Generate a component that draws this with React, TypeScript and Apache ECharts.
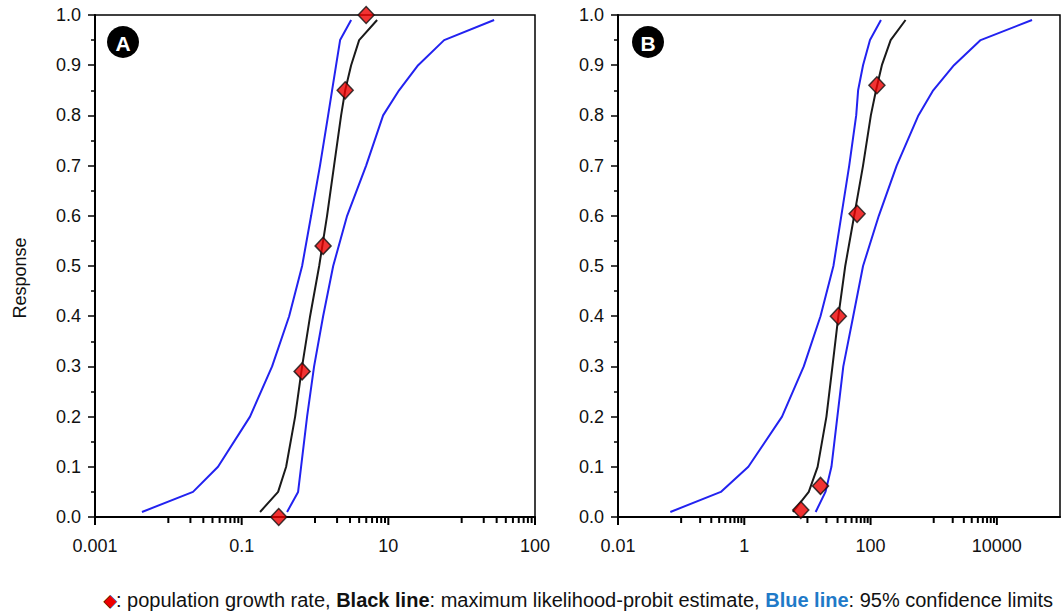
import React, { useEffect, useRef } from "react";
import * as echarts from "echarts";

// Response levels at which the fitted curves are drawn
const levels = [0.01, 0.05, 0.1, 0.2, 0.3, 0.4, 0.5, 0.6, 0.7, 0.8, 0.85, 0.9, 0.95, 0.99];

// Panel A (x values for each response level)
const aBlack = [0.178, 0.314, 0.404, 0.536, 0.667, 0.857, 1.14, 1.46, 1.82, 2.27, 2.58, 3.11, 4.0, 7.03];
const aLower = [0.00437, 0.0217, 0.0476, 0.13, 0.26, 0.444, 0.667, 0.885, 1.17, 1.51, 1.71, 1.94, 2.2, 3.11];
const aUpper = [0.416, 0.588, 0.646, 0.78, 0.972, 1.29, 1.77, 2.74, 4.98, 8.49, 14.0, 25.5, 57.7, 277];
const aPointX = [0.32, 0.667, 1.29, 2.58, 4.98];
const aPointY = [0.0, 0.29, 0.54, 0.85, 1.0];

// Panel B
const bBlack = [5.89, 10.5, 14.5, 20.0, 24.9, 30.9, 39.7, 55.0, 76.0, 101, 122, 151, 208, 358];
const bLower = [0.0674, 0.425, 1.16, 3.96, 8.75, 16.1, 25.8, 34.4, 45.9, 59.2, 63.5, 76.0, 97.9, 146];
const bUpper = [13.5, 19.3, 24.0, 29.8, 37.0, 53.1, 76.0, 135, 259, 572, 982, 2094, 5534, 36060];
const bPointX = [7.85, 16.1, 30.9, 61.2, 126];
const bPointY = [0.014, 0.062, 0.4, 0.604, 0.86];

// Axis tick labels (by power of ten)
const aLabels: Record<number, string> = { [-3]: "0.001", [-1]: "0.1", 1: "10", 3: "100" };
const bLabels: Record<number, string> = { [-2]: "0.01", 0: "1", 2: "100", 4: "10000" };
const aMajors = [0.001, 0.1, 10, 1000];
const bMajors = [0.01, 1, 100, 10000];
const minorMultiples = [1, 2, 3, 4, 5, 6, 7, 8, 9];

const FONT = "'Liberation Sans', Arial, sans-serif";
const BLUE = "#2222f0";
const BLACK = "#1a1a1a";

function minorTicks(majors: number[], max: number) {
  const out: number[] = [];
  majors.forEach((m) => {
    minorMultiples.forEach((k) => {
      const v = m * 10 * k;
      if (v <= max * 0.9999) out.push(v);
    });
  });
  return out;
}

function pairs(xs: number[], ys: number[]) {
  return xs.map((x, i) => [x, ys[i]]);
}

export default function App() {
  const ref = useRef<HTMLDivElement>(null);
  useEffect(() => {
    if (!ref.current) return;
    const chart = echarts.init(ref.current, undefined, { renderer: "svg" });

    const xAxisBase = (idx: number, min: number, max: number, labels: Record<number, string>) => ({
      type: "log",
      gridIndex: idx,
      logBase: 10,
      min,
      max,
      axisLine: { show: true, lineStyle: { color: "#000", width: 2 } },
      axisTick: { show: false },
      splitLine: { show: false },
      axisLabel: {
        margin: 20,
        fontSize: 18,
        fontFamily: FONT,
        color: "#111",
        showMinLabel: true,
        showMaxLabel: true,
        formatter: (v: number) => {
          const e = Math.round(Math.log10(v));
          return labels[e] ?? "";
        },
      },
    });

    const yAxisBase = (idx: number) => ({
      type: "value",
      gridIndex: idx,
      min: 0,
      max: 1,
      interval: 0.1,
      axisLine: { show: true, lineStyle: { color: "#000", width: 2 } },
      axisTick: { show: true, length: 7, lineStyle: { color: "#000", width: 1.5 } },
      minorTick: { show: true, splitNumber: 2, length: 4, lineStyle: { color: "#000", width: 1.5 } },
      splitLine: { show: false },
      axisLabel: {
        margin: 14,
        fontSize: 18,
        fontFamily: FONT,
        color: "#111",
        formatter: (v: number) => v.toFixed(1),
      },
    });

    const lineSeries = (idx: number, xs: number[], color: string) => ({
      type: "line",
      xAxisIndex: idx,
      yAxisIndex: idx,
      data: pairs(xs, levels),
      showSymbol: false,
      symbol: "none",
      lineStyle: { color, width: 2 },
      z: 3,
    });

    const pointSeries = (idx: number, xs: number[], ys: number[]) => ({
      type: "scatter",
      xAxisIndex: idx,
      yAxisIndex: idx,
      data: pairs(xs, ys),
      symbol: "diamond",
      symbolSize: [16, 17],
      clip: false,
      itemStyle: { color: "#ee0000", borderColor: "#111", borderWidth: 1.5 },
      z: 6,
    });

    const badge = (cx: number, cy: number, letter: string) => ({
      type: "group",
      children: [
        { type: "circle", shape: { cx, cy, r: 16 }, style: { fill: "#000" } },
        {
          type: "text",
          x: cx,
          y: cy + 1,
          style: {
            text: letter,
            fill: "#fff",
            font: `bold 21px ${FONT}`,
            align: "center",
            verticalAlign: "middle",
          },
        },
      ],
    });

    const baseGraphic: any[] = [
      {
        type: "text",
        x: 20,
        y: 278,
        rotation: Math.PI / 2,
        style: {
          text: "Response",
          font: `18px ${FONT}`,
          fill: "#111",
          align: "center",
          verticalAlign: "middle",
        },
      },
      badge(123, 42, "A"),
      badge(648, 42, "B"),
      {
        type: "text",
        x: 104,
        y: 600,
        style: {
          text:
            "{d|◆}{n|: population growth rate, }{b|Black line}{n|: maximum likelihood-probit estimate, }{u|Blue line}{n|: 95% confidence limits}",
          verticalAlign: "middle",
          align: "left",
          rich: {
            d: { fontSize: 16, fill: "#ee0000", stroke: "#111", lineWidth: 1, fontFamily: FONT },
            n: { fontSize: 20, fill: "#111", fontFamily: FONT },
            b: { fontSize: 20, fill: "#111", fontWeight: "bold", fontFamily: FONT },
            u: { fontSize: 20, fill: "#1f7ac8", fontWeight: "bold", fontFamily: FONT },
          },
        },
      },
    ];

    chart.setOption({
      animation: false,
      backgroundColor: "#fff",
      grid: [
        { left: 95, right: 528, top: 15, bottom: 97, show: true, borderColor: "#000", borderWidth: 1.5 },
        { left: 618, right: -3, top: 15, bottom: 97, show: true, borderColor: "#000", borderWidth: 1.5 },
      ],
      xAxis: [xAxisBase(0, 0.001, 1000, aLabels), xAxisBase(1, 0.01, 100000, bLabels)],
      yAxis: [yAxisBase(0), yAxisBase(1)],
      series: [
        lineSeries(0, aLower, BLUE),
        lineSeries(0, aUpper, BLUE),
        lineSeries(0, aBlack, BLACK),
        pointSeries(0, aPointX, aPointY),
        lineSeries(1, bLower, BLUE),
        lineSeries(1, bUpper, BLUE),
        lineSeries(1, bBlack, BLACK),
        pointSeries(1, bPointX, bPointY),
      ],
    });

    // x-axis log ticks, positioned through the chart's own axis scales
    const tickLines: any[] = [];
    const addTicks = (gridIndex: number, values: number[], len: number) => {
      values.forEach((v) => {
        const p = chart.convertToPixel({ xAxisIndex: gridIndex, yAxisIndex: gridIndex } as any, [v, 0]) as any;
        if (!p || isNaN(p[0]) || p[0] > 1062) return;
        tickLines.push({
          type: "line",
          shape: { x1: p[0], y1: p[1], x2: p[0], y2: p[1] + len },
          style: { stroke: "#000", lineWidth: 2 },
        });
      });
    };
    addTicks(0, aMajors, 8);
    addTicks(0, minorTicks(aMajors, 1000), 6);
    addTicks(1, bMajors, 8);
    addTicks(1, minorTicks(bMajors, 100000), 6);

    chart.setOption({ graphic: [...baseGraphic, ...tickLines] });

    return () => chart.dispose();
  }, []);
  return (
    <div
      ref={ref}
      style={{ position: "fixed", left: 0, top: 0, width: 1063, height: 614, background: "#fff" }}
    />
  );
}
